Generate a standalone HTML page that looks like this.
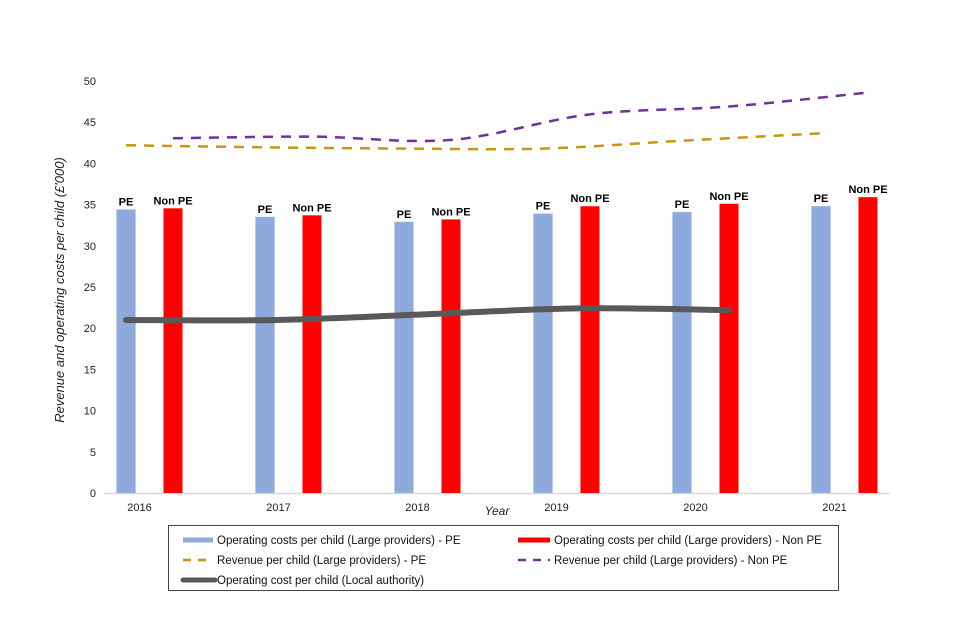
<!DOCTYPE html>
<html><head><meta charset="utf-8"><style>
html,body{margin:0;padding:0;background:#fff;}
svg{display:block;font-family:"Liberation Sans",Arial,sans-serif;}
</style></head><body>
<svg id="chart" width="960" height="640" viewBox="0 0 960 640">
<g id="grid"></g><g id="bars"></g><g id="lines"></g><g id="labels"></g>
<text transform="translate(64,290) rotate(-90)" text-anchor="middle" font-size="13" font-style="italic" fill="#222">Revenue and operating costs per child (£'000)</text>
<text x="497" y="515" text-anchor="middle" font-size="12" font-style="italic" fill="#222">Year</text>
<g>
<rect x="168.5" y="525.5" width="670" height="65" fill="#fff" stroke="#444" stroke-width="1"/>
<g><line x1="183" y1="540" x2="213" y2="540" stroke="#8EA9DB" stroke-width="5"/><text x="217" y="544" font-size="11.5" fill="#111">Operating costs per child (Large providers) - PE</text></g>
<g><line x1="518" y1="540" x2="550" y2="540" stroke="#FF0000" stroke-width="5"/><text x="554" y="544" font-size="11.5" fill="#111">Operating costs per child (Large providers) - Non PE</text></g>
<g><line x1="183" y1="560" x2="213" y2="560" stroke="#C9960C" stroke-width="2.5" stroke-dasharray="8,7"/><text x="217" y="564" font-size="11.5" fill="#111">Revenue per child (Large providers) - PE</text></g>
<g><line x1="518" y1="560" x2="550" y2="560" stroke="#7030A0" stroke-width="2.5" stroke-dasharray="8,7"/><text x="554" y="564" font-size="11.5" fill="#111">Revenue per child (Large providers) - Non PE</text></g>
<g><line x1="183" y1="580" x2="215" y2="580" stroke="#595959" stroke-width="5" stroke-linecap="round"/><text x="217" y="584" font-size="11.5" fill="#111">Operating cost per child (Local authority)</text></g>
</g>
</svg>
<script>
const years = ["2016","2017","2018","2019","2020","2021"];
const pePosts = [34.4, 33.5, 32.9, 33.9, 34.1, 34.8];
const nonPeCosts = [34.55, 33.7, 33.2, 34.8, 35.1, 35.9];
const peRevenue = [42.2, 41.95, 41.8, 41.8, 42.75, 43.65];
const nonPeRevenue = [43.05, 43.25, 42.85, 45.95, 46.9, 48.6];
const laCosts = [21.0, 21.0, 21.7, 22.4, 22.2];
const yTicks = [0,5,10,15,20,25,30,35,40,45,50];

const NS="http://www.w3.org/2000/svg";
const y0=493, yTop=81, x0=104, x1=890;
function yS(v){return y0-(v/50)*(y0-yTop);}
function cx(i){return 149.5+139*i;}
function peX(i){return cx(i)-23.5;}
function npX(i){return cx(i)+23.5;}
function laX(i){return peX(0)+i*(npX(4)-peX(0))/(laCosts.length-1);}
function mk(tag,attrs,parent){const e=document.createElementNS(NS,tag);for(const k in attrs)e.setAttribute(k,attrs[k]);parent.appendChild(e);return e;}
const grid=document.getElementById('grid'),bars=document.getElementById('bars'),lines=document.getElementById('lines'),labels=document.getElementById('labels');

const ax=mk('line',{x1:x0,y1:y0+0.5,x2:x1,y2:y0+0.5,stroke:'#d9d9d9','stroke-width':1.5},grid);


yTicks.forEach(t=>{
  const tx=mk('text',{x:96,y:yS(t)+4,'text-anchor':'end','font-size':11,fill:'#222'},grid);
  tx.textContent=t;
  
  
});
years.forEach((yr,i)=>{
  const tx=mk('text',{x:cx(i)-10,y:511,'text-anchor':'middle','font-size':11,fill:'#222'},grid);
  tx.textContent=yr;
  
  
  const b1=mk('rect',{x:peX(i)-9.5,y:yS(pePosts[i]),width:19,height:y0-yS(pePosts[i]),fill:'#8EA9DB',stroke:'#b4c7e7','stroke-width':0.5},bars);
  
  
  const b2=mk('rect',{x:npX(i)-9.5,y:yS(nonPeCosts[i]),width:19,height:y0-yS(nonPeCosts[i]),fill:'#FF0000'},bars);
  
  
  const l1=mk('text',{x:peX(i),y:yS(pePosts[i])-4,'text-anchor':'middle','font-size':11,'font-weight':'bold',fill:'#000'},labels);
  l1.textContent='PE';
  
  
  const l2=mk('text',{x:npX(i),y:yS(nonPeCosts[i])-4,'text-anchor':'middle','font-size':11,'font-weight':'bold',fill:'#000'},labels);
  l2.textContent='Non PE';
  
  
});
function smooth(pts){
  let d='M'+pts[0][0]+','+pts[0][1];
  for(let i=0;i<pts.length-1;i++){
    const p0=pts[i-1]||pts[i],p1=pts[i],p2=pts[i+1],p3=pts[i+2]||p2;
    const c1=[p1[0]+(p2[0]-p0[0])/6,p1[1]+(p2[1]-p0[1])/6];
    const c2=[p2[0]-(p3[0]-p1[0])/6,p2[1]-(p3[1]-p1[1])/6];
    d+=' C'+c1+' '+c2+' '+p2;
  }
  return d;
}
const la=mk('path',{d:smooth(laCosts.map((v,i)=>[laX(i),yS(v)])),fill:'none',stroke:'#595959','stroke-width':6,'stroke-linecap':'round'},lines);


const pr=mk('path',{d:smooth(peRevenue.map((v,i)=>[peX(i),yS(v)])),fill:'none',stroke:'#C9960C','stroke-width':2.5,'stroke-dasharray':'10,8'},lines);


const nr=mk('path',{d:smooth(nonPeRevenue.map((v,i)=>[npX(i),yS(v)])),fill:'none',stroke:'#7030A0','stroke-width':2.5,'stroke-dasharray':'10,8'},lines);


</script>
</body></html>
